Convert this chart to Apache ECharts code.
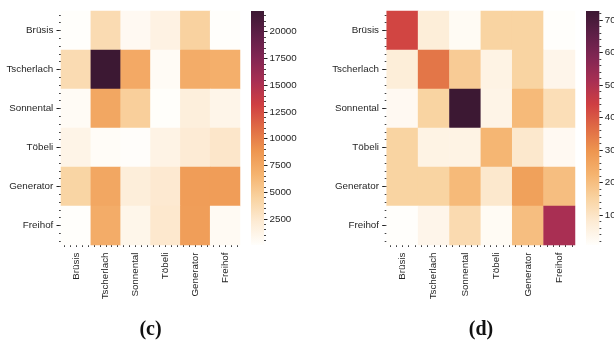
<!DOCTYPE html>
<html>
<head>
<meta charset="utf-8">
<script src="https://cdn.jsdelivr.net/npm/echarts@6/dist/echarts.min.js"></script>
<style>
html,body{margin:0;padding:0;background:#fff;}
#chart{width:614px;height:343px;}
</style>
</head>
<body>
<div id="chart"></div>
<script>
// ---- data ----
const places = ['Brüsis', 'Tscherlach', 'Sonnental', 'Töbeli', 'Generator', 'Freihof'];

// rows follow the y-axis (top to bottom), columns follow the x-axis (left to right)
const valuesC = [
  [71,   3700, 600,  1400, 4500, 71],
  [3700, 21934, 7400, 400, 7200, 7000],
  [400,  7600, 4700, 100,  1800, 1100],
  [1200, 300,  150,  1300, 2200, 2700],
  [4300, 7600, 1900, 2400, 8300, 8300],
  [71,   7200, 1000, 2500, 8200, 500]
];
const valuesD = [
  [43,   7,  2,     15, 15, 0.77],
  [7,    35, 17,    5,  15, 4],
  [2.5,  15, 72.77, 4.5, 21, 12],
  [15,   5,  5,     22, 9,  2.5],
  [15,   15, 21,    9,  27, 20],
  [0.77, 4,  13,    2,  20, 51]
];
const rangeC = [71, 21934];
const rangeD = [0.77, 72.77];
const cbTicksC = [2500, 5000, 7500, 10000, 12500, 15000, 17500, 20000];
const cbTicksD = [10, 20, 30, 40, 50, 60, 70];
const cbMinorStepC = 500;
const cbMinorStepD = 2;
const panelLabels = ['(c)', '(d)'];
const palette = ['#FFFEFB', '#FDEBD4', '#F9D3A1', '#F5B470', '#EE9650', '#E06C45',
                 '#CF3F42', '#A82F53', '#822653', '#5E1F47', '#3C1833'];

// ---- helpers ----
function cells(vals) {
  const out = [];
  vals.forEach((row, yi) => row.forEach((v, xi) => out.push([xi, yi, v])));
  return out;
}
function minorTicks(step, range, majors) {
  const out = [];
  for (let v = Math.ceil(range[0] / step) * step; v < range[1]; v += step) {
    const r = +v.toFixed(4);
    if (majors.indexOf(r) < 0) out.push(r);
  }
  return out;
}
const catMinor = [];
for (let k = 0; k < places.length * 5; k++) catMinor.push(+(0.1 + 0.2 * k).toFixed(2));

const txt = '#262626';
const font = 'Liberation Sans';
const gradient = {
  type: 'linear', x: 0, y: 1, x2: 0, y2: 0,
  colorStops: palette.map((c, i) => ({ offset: i / (palette.length - 1), color: c }))
};

function catX(grid) {
  return {
    type: 'category', gridIndex: grid, data: places, position: 'bottom',
    axisLine: { show: false },
    axisTick: { show: true, alignWithLabel: true, length: 4.5, lineStyle: { color: '#222', width: 1 } },
    axisLabel: { rotate: 90, margin: 7.5, fontSize: 9.8, fontFamily: font, color: txt },
    splitLine: { show: false }
  };
}
function catY(grid) {
  return {
    type: 'category', gridIndex: grid, data: places, inverse: true, position: 'left',
    axisLine: { show: false },
    axisTick: { show: true, alignWithLabel: true, length: 4.5, lineStyle: { color: '#222', width: 1 } },
    axisLabel: { margin: 7.7, fontSize: 9.8, fontFamily: font, color: txt },
    splitLine: { show: false }
  };
}
function minorAxis(grid, pos, inverse) {
  return {
    type: 'value', gridIndex: grid, min: 0, max: places.length, position: pos, inverse: inverse,
    axisLine: { show: false },
    axisTick: { show: true, length: 2, customValues: catMinor, lineStyle: { color: '#444', width: 1 } },
    axisLabel: { show: false },
    splitLine: { show: false }
  };
}
function cbMajor(grid, range, ticks) {
  return {
    type: 'value', gridIndex: grid, min: range[0], max: range[1], startValue: range[0], position: 'right',
    axisLine: { show: false },
    axisTick: { show: true, length: 3.5, customValues: ticks, lineStyle: { color: '#222', width: 1 } },
    axisLabel: { show: true, margin: 5.5, customValues: ticks, fontSize: 9.8, fontFamily: font, color: txt,
                 formatter: v => String(v) },
    splitLine: { show: false }
  };
}
function cbMinor(grid, range, step, ticks) {
  return {
    type: 'value', gridIndex: grid, min: range[0], max: range[1], position: 'right',
    axisLine: { show: false },
    axisTick: { show: true, length: 2, customValues: minorTicks(step, range, ticks), lineStyle: { color: '#444', width: 1 } },
    axisLabel: { show: false },
    splitLine: { show: false }
  };
}
function cbX(grid) {
  return { type: 'category', gridIndex: grid, data: ['cb'], show: false, boundaryGap: true };
}

const chart = echarts.init(document.getElementById('chart'), null, { renderer: 'canvas' });
chart.setOption({
  animation: false,
  backgroundColor: '#ffffff',
  grid: [
    { left: 61, top: 11, width: 179, height: 234, containLabel: false, outerBoundsMode: 'none' },
    { left: 386.7, top: 11, width: 188.3, height: 234, containLabel: false, outerBoundsMode: 'none' },
    { left: 251, top: 11, width: 13, height: 234, containLabel: false, outerBoundsMode: 'none' },
    { left: 586, top: 11, width: 13.3, height: 234, containLabel: false, outerBoundsMode: 'none' }
  ],
  xAxis: [
    catX(0), minorAxis(0, 'bottom', false),
    catX(1), minorAxis(1, 'bottom', false),
    cbX(2), cbX(3)
  ],
  yAxis: [
    catY(0), minorAxis(0, 'left', true),
    catY(1), minorAxis(1, 'left', true),
    cbMajor(2, rangeC, cbTicksC), cbMinor(2, rangeC, cbMinorStepC, cbTicksC),
    cbMajor(3, rangeD, cbTicksD), cbMinor(3, rangeD, cbMinorStepD, cbTicksD)
  ],
  visualMap: [
    { show: false, seriesIndex: 0, min: rangeC[0], max: rangeC[1], inRange: { color: palette } },
    { show: false, seriesIndex: 1, min: rangeD[0], max: rangeD[1], inRange: { color: palette } }
  ],
  series: [
    { type: 'heatmap', xAxisIndex: 0, yAxisIndex: 0, data: cells(valuesC), emphasis: { disabled: true } },
    { type: 'heatmap', xAxisIndex: 2, yAxisIndex: 2, data: cells(valuesD), emphasis: { disabled: true } },
    { type: 'bar', xAxisIndex: 4, yAxisIndex: 4, data: [rangeC[1]], barWidth: '100%', clip: true,
      itemStyle: { color: gradient }, emphasis: { disabled: true }, silent: true },
    { type: 'bar', xAxisIndex: 5, yAxisIndex: 6, data: [rangeD[1]], barWidth: '100%', clip: true,
      itemStyle: { color: gradient }, emphasis: { disabled: true }, silent: true }
  ],
  graphic: [
    { type: 'text', x: 150.5, y: 330, style: { text: panelLabels[0], font: 'bold 20px "Liberation Serif"', fill: '#111', align: 'center', verticalAlign: 'middle' } },
    { type: 'text', x: 481, y: 330, style: { text: panelLabels[1], font: 'bold 20px "Liberation Serif"', fill: '#111', align: 'center', verticalAlign: 'middle' } }
  ]
});
</script>
</body>
</html>
